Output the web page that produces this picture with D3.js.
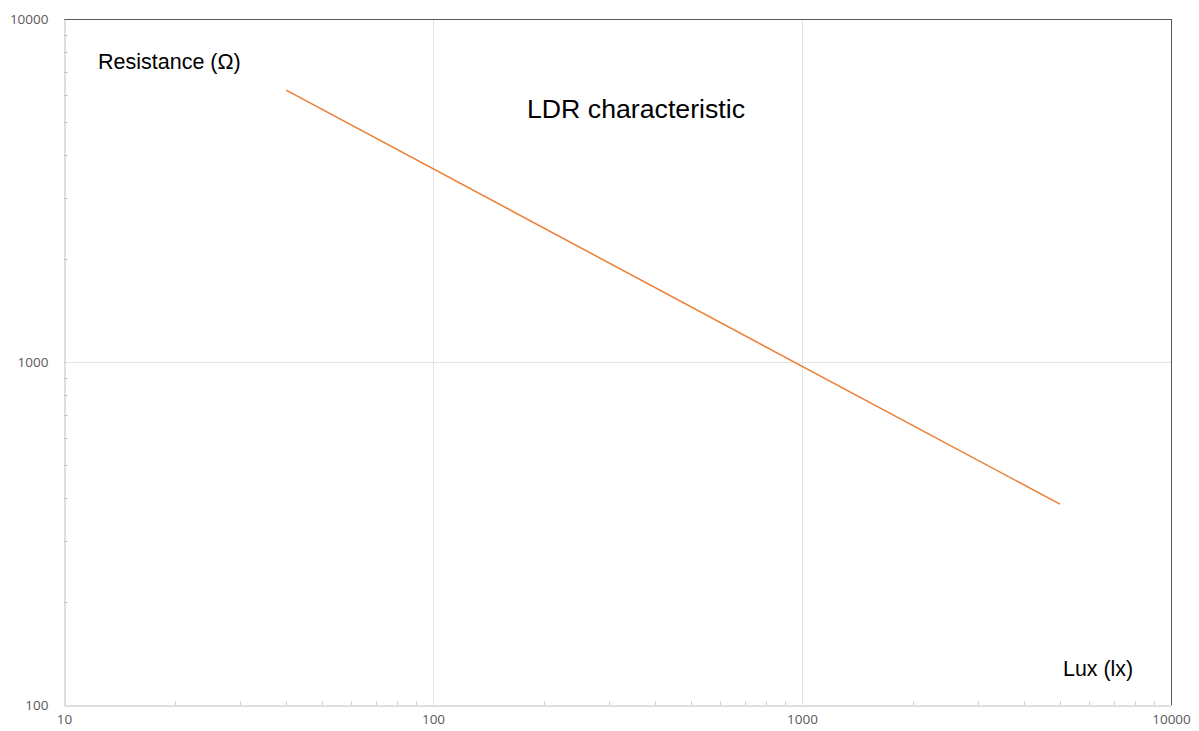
<!DOCTYPE html>
<html>
<head>
<meta charset="utf-8">
<script src="https://cdn.jsdelivr.net/npm/d3@7"></script>
<style>
  body { margin: 0; background: #fff; }
  text { font-family: "Liberation Sans", Arial, sans-serif; }
  .tick text { font-family: "Open Sans", "Noto Sans", sans-serif; fill: #595959; font-size: 13.5px; }
</style>
</head>
<body>
<script>
// LDR curve
var luxValues = [40, 5000];
var resistanceValues = [6200, 385];
var xTickValues = [10, 100, 1000, 10000];
var yTickValues = [100, 1000, 10000];

var width = 1199, height = 731;
var plotLeft = 64, plotRight = 1171, plotTop = 19, plotBottom = 705;

var svg = d3.select("body").append("svg")
  .attr("width", width)
  .attr("height", height);

var x = d3.scaleLog().domain([10, 10000]).range([plotLeft, plotRight]);
var y = d3.scaleLog().domain([100, 10000]).range([plotBottom, plotTop]);

// minor values between decades
var minorX = [], minorY = [];
for (var d = 10; d < 10000; d *= 10) {
  for (var k = 2; k <= 9; k++) { minorX.push(d * k); }
}
for (var d = 100; d < 10000; d *= 10) {
  for (var k = 2; k <= 9; k++) { minorY.push(d * k); }
}

// gridlines
svg.append("g").selectAll("line")
  .data(xTickValues.slice(1, -1))
  .enter().append("line")
  .attr("x1", function(d) { return Math.round(x(d)) + 0.5; })
  .attr("x2", function(d) { return Math.round(x(d)) + 0.5; })
  .attr("y1", plotTop).attr("y2", plotBottom)
  .style("stroke", "#e3e3e3").style("stroke-width", 1);

svg.append("g").selectAll("line")
  .data(yTickValues.slice(1, -1))
  .enter().append("line")
  .attr("y1", function(d) { return Math.round(y(d)) + 0.5; })
  .attr("y2", function(d) { return Math.round(y(d)) + 0.5; })
  .attr("x1", plotLeft).attr("x2", plotRight)
  .style("stroke", "#e3e3e3").style("stroke-width", 1);

// minor ticks, pointing inward
svg.append("g").selectAll("line")
  .data(minorX)
  .enter().append("line")
  .attr("x1", function(d) { return Math.round(x(d)) + 0.5; })
  .attr("x2", function(d) { return Math.round(x(d)) + 0.5; })
  .attr("y1", plotBottom).attr("y2", plotBottom - 4)
  .style("stroke", "#d0d0d0");

svg.append("g").selectAll("line")
  .data(minorY)
  .enter().append("line")
  .attr("y1", function(d) { return Math.round(y(d)) + 0.5; })
  .attr("y2", function(d) { return Math.round(y(d)) + 0.5; })
  .attr("x1", plotLeft).attr("x2", plotLeft + 4)
  .style("stroke", "#d0d0d0");

// plot border: top/right dark
svg.append("line").attr("x1", plotLeft).attr("x2", plotRight + 0.5).attr("y1", plotTop + 0.5).attr("y2", plotTop + 0.5)
  .style("stroke", "#595959");
svg.append("line").attr("x1", plotRight + 0.5).attr("x2", plotRight + 0.5).attr("y1", plotTop).attr("y2", plotBottom)
  .style("stroke", "#595959");

// axes
var xAxis = svg.append("g")
  .attr("transform", "translate(0," + (plotBottom + 0.5) + ")")
  .call(d3.axisBottom(x).tickValues(xTickValues).tickFormat(d3.format("d")).tickSize(0).tickPadding(9));
xAxis.select(".domain").style("stroke", "#bfbfbf");

var yAxis = svg.append("g")
  .attr("transform", "translate(" + (plotLeft + 0.5) + ",0)")
  .call(d3.axisLeft(y).tickValues(yTickValues).tickFormat(d3.format("d")).tickSize(0).tickPadding(16));
yAxis.select(".domain").style("stroke", "#bfbfbf");

// data line
var line = d3.line()
  .x(function(d) { return x(d[0]); })
  .y(function(d) { return y(d[1]); });

svg.append("path")
  .datum(d3.zip(luxValues, resistanceValues))
  .attr("d", line)
  .style("fill", "none")
  .style("stroke", "#ED7D31")
  .style("stroke-width", 1.5);

// labels
svg.append("text").attr("x", 98).attr("y", 69)
  .style("font-size", "21.5px").style("fill", "#000")
  .text("Resistance (Ω)");

svg.append("text").attr("x", 527).attr("y", 118)
  .style("font-size", "26.7px").style("fill", "#000")
  .text("LDR characteristic");

svg.append("text").attr("x", 1063).attr("y", 676)
  .style("font-size", "21.4px").style("fill", "#000")
  .text("Lux (lx)");
</script>
</body>
</html>
